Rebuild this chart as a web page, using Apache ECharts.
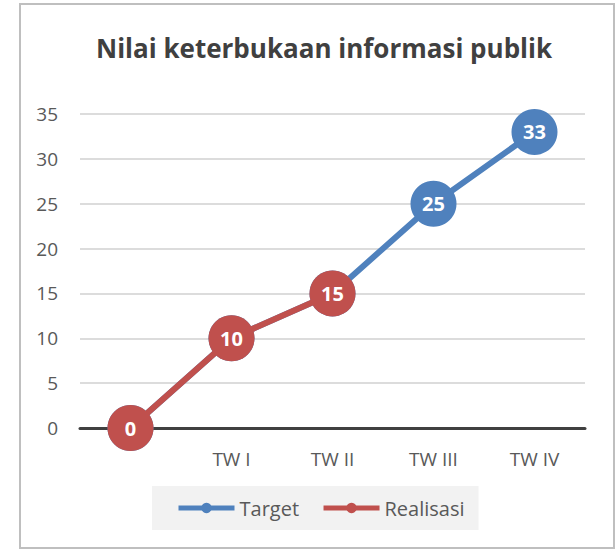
<!DOCTYPE html>
<html>
<head>
<meta charset="utf-8">
<script src="https://cdn.jsdelivr.net/npm/echarts@6/dist/echarts.min.js"></script>
<style>
  html, body { margin: 0; padding: 0; background: #fff; }
  #chart { width: 616px; height: 551px; }
</style>
</head>
<body>
<div id="chart"></div>
<script>
// data
const categories = ['', 'TW I', 'TW II', 'TW III', 'TW IV'];
const targetValues = [0, 10, 15, 25, 33];
const realisasiValues = [0, 10, 15, null, null];

const FONT = '"Open Sans", "Liberation Sans", sans-serif';
const TEXT = '#595959';

const chart = echarts.init(document.getElementById('chart'), null, { renderer: 'svg' });

const seriesBase = {
    type: 'line',
    symbol: 'circle',
    symbolSize: 46,
    lineStyle: { width: 6 },
    label: {
        show: true,
        position: 'inside',
        color: '#fff',
        fontWeight: 'bold',
        fontSize: 20,
        fontFamily: FONT
    },
    emphasis: { disabled: true }
};

chart.setOption({
    animation: false,
    title: {
        text: 'Nilai keterbukaan informasi publik',
        left: 91,
        top: 30,
        textStyle: { fontFamily: FONT, fontSize: 26, fontWeight: 'bold', color: '#404040' }
    },
    graphic: [{
        type: 'rect',
        shape: { x: 20, y: 4, width: 594, height: 544 },
        style: { fill: 'none', stroke: '#bfbfbf', lineWidth: 2 },
        z: 0
    }],
    legend: {
        left: 152,
        top: 486,
        padding: [12, 14, 12, 24],
        itemGap: 22,
        itemWidth: 56,
        itemHeight: 13,
        backgroundColor: '#f2f2f2',
        lineStyle: { width: 5 },
        textStyle: { fontFamily: FONT, fontSize: 20, color: TEXT },
        data: ['Target', 'Realisasi']
    },
    grid: { left: 80, right: 31, top: 114, bottom: 123 },
    xAxis: {
        type: 'category',
        data: categories,
        axisTick: { show: false },
        axisLine: { lineStyle: { color: '#404040', width: 3 } },
        axisLabel: { margin: 21, fontFamily: FONT, fontSize: 19, color: TEXT }
    },
    yAxis: {
        type: 'value',
        min: 0,
        max: 35,
        interval: 5,
        axisLine: { show: false },
        axisTick: { show: false },
        axisLabel: { margin: 22, fontFamily: FONT, fontSize: 19, color: TEXT },
        splitLine: { lineStyle: { color: '#d0d0d0', width: 1.5 } }
    },
    series: [
        Object.assign({}, seriesBase, {
            name: 'Target',
            data: targetValues,
            itemStyle: { color: '#4f81bd' },
            z: 2
        }),
        Object.assign({}, seriesBase, {
            name: 'Realisasi',
            data: realisasiValues,
            itemStyle: { color: '#c0504d' },
            z: 3
        })
    ]
});
</script>
</body>
</html>
